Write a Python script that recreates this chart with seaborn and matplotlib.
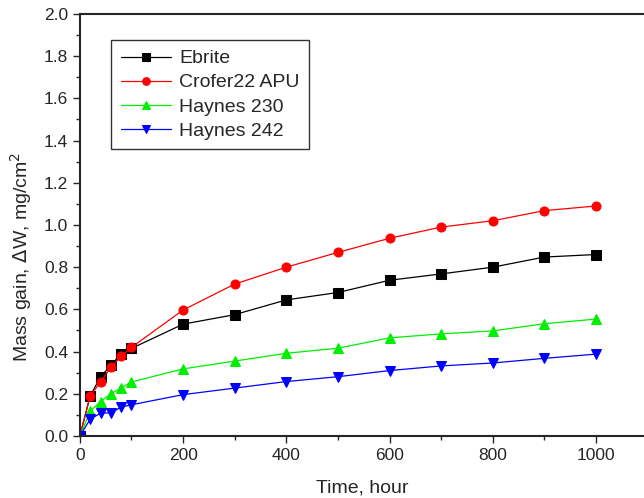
import numpy as np
import pandas as pd
import matplotlib
matplotlib.use("Agg")
import matplotlib.pyplot as plt
import seaborn as sns
from matplotlib.ticker import MultipleLocator, FormatStrFormatter

# Dados
tempo = [0, 20, 40, 60, 80, 100, 200, 300, 400, 500, 600, 700, 800, 900, 1000]
ebrite = [0.0, 0.19, 0.28, 0.335, 0.39, 0.415, 0.53, 0.575, 0.645, 0.68, 0.738, 0.768, 0.80, 0.848, 0.86]
crofer = [0.0, 0.19, 0.255, 0.325, 0.378, 0.42, 0.597, 0.72, 0.80, 0.87, 0.937, 0.99, 1.02, 1.068, 1.09]
haynes230 = [0.0, 0.117, 0.163, 0.2, 0.228, 0.256, 0.318, 0.355, 0.392, 0.416, 0.465, 0.484, 0.498, 0.532, 0.554]
haynes242 = [0.0, 0.08, 0.108, 0.11, 0.137, 0.148, 0.196, 0.227, 0.258, 0.281, 0.31, 0.332, 0.346, 0.368, 0.388]

series = ["Ebrite", "Crofer22 APU", "Haynes 230", "Haynes 242"]
cores = {"Ebrite": "black", "Crofer22 APU": "red", "Haynes 230": "#00ee00", "Haynes 242": "blue"}
marcadores = {"Ebrite": "s", "Crofer22 APU": "o", "Haynes 230": "^", "Haynes 242": "v"}

df = pd.DataFrame({
    "Tempo": tempo * 4,
    "Ganho": ebrite + crofer + haynes230 + haynes242,
    "Liga": [s for s in series for _ in tempo],
})

sns.set_style("ticks")
plt.rcParams["font.family"] = ["Liberation Sans", "DejaVu Sans"]

fig = plt.figure(figsize=(6.44, 4.98), dpi=100)
ax = fig.add_axes([0.124, 0.1245, 0.876, 0.8475])

for s in series:
    sub = df[df["Liga"] == s]
    sns.lineplot(data=sub, x="Tempo", y="Ganho", ax=ax, color=cores[s],
                 marker=marcadores[s], markersize=6.5, markeredgecolor=cores[s],
                 linewidth=0.9, label=s)

ax.set_xlim(0, 1093)
ax.set_ylim(0, 2.0)
ax.xaxis.set_major_locator(MultipleLocator(200))
ax.xaxis.set_minor_locator(MultipleLocator(100))
ax.yaxis.set_major_locator(MultipleLocator(0.2))
ax.yaxis.set_minor_locator(MultipleLocator(0.1))
ax.yaxis.set_major_formatter(FormatStrFormatter("%.1f"))
ax.tick_params(which="major", length=5, width=1, labelsize=12.5)
ax.tick_params(which="minor", length=3, width=1)
for sp in ax.spines.values():
    sp.set_linewidth(1.5)
ax.spines["right"].set_visible(False)

ax.set_xlabel("Time, hour", fontsize=14, labelpad=12)
ax.set_ylabel("Mass gain, $\\Delta$W, mg/cm$^2$", fontsize=14)
ax.yaxis.set_label_coords(-0.082, 0.424)

leg = ax.legend(loc="upper left", bbox_to_anchor=(0.055, 0.938), fontsize=14,
                frameon=True, fancybox=False, edgecolor="black", handlelength=2.6,
                borderpad=0.5, labelspacing=0.33, handletextpad=0.4,
                markerscale=0.85, borderaxespad=0)
leg.get_frame().set_linewidth(1.0)

fig.savefig("out.png", dpi=100)
